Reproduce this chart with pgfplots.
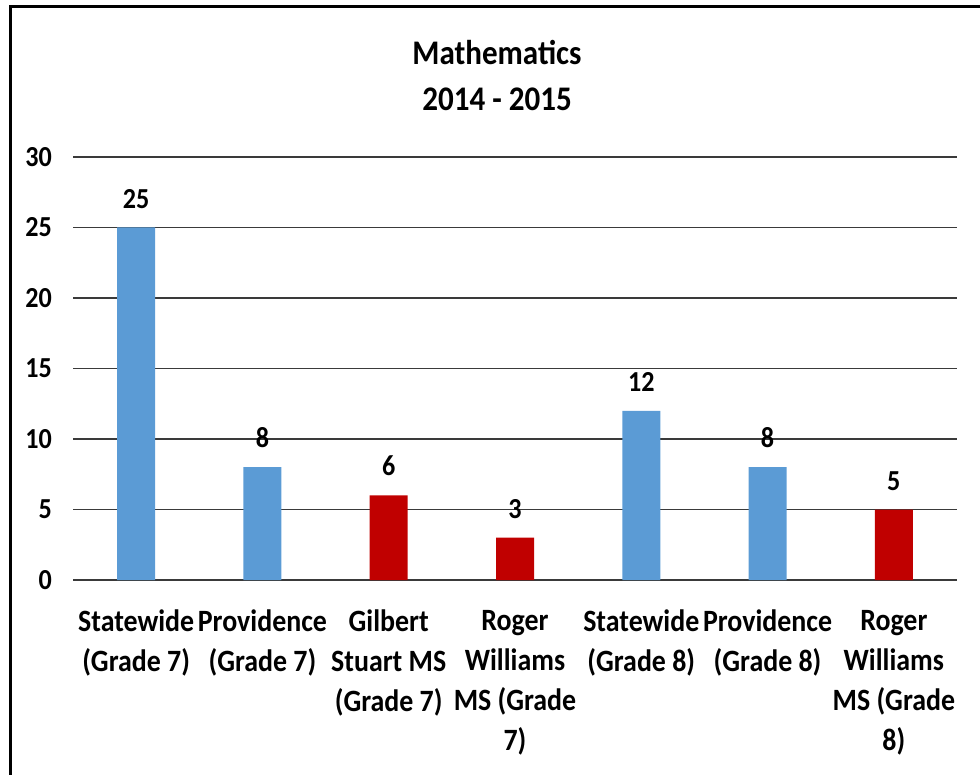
\documentclass[border=0pt]{standalone}
\usepackage{pgfplots}
\pgfplotsset{compat=1.18}
\usepackage{fontspec}
\setmainfont[FakeStretch=0.9]{Carlito}
\definecolor{barblue}{HTML}{5B9BD5}
\definecolor{barred}{HTML}{C00000}
\definecolor{gridc}{HTML}{3A3A3A}
\definecolor{zeroc}{HTML}{D9D9D9}
\begin{document}
\begin{tikzpicture}[x=1pt,y=1pt]
\path[use as bounding box] (0,0) rectangle (980,774);
\draw[line width=3pt, black] (10,-2) -- (10,767) -- (982,767);
\node[font=\bfseries\fontsize{34.5}{46}\selectfont, align=center] at (497,699) {Mathematics\\2014 - 2015};
\begin{axis}[
  at={(73pt,194pt)}, anchor=south west, scale only axis,
  width=884pt, height=423pt,
  xmin=-0.5, xmax=6.5, ymin=0, ymax=30,
  ytick={5,10,...,30},
  extra y ticks={0},
  extra y tick style={grid style={zeroc, line width=1.5pt}},
  ymajorgrids,
  major grid style={gridc, line width=1.2pt},
  axis line style={draw=none},
  major tick length=0pt,
  xtick={0,1,2,3,4,5,6},
  xticklabels={{Statewide\\(Grade 7)},{Providence\\(Grade 7)},{Gilbert\\Stuart MS\\(Grade 7)},{Roger\\Williams\\MS (Grade\\7)},{Statewide\\(Grade 8)},{Providence\\(Grade 8)},{Roger\\Williams\\MS (Grade\\8)}},
  /pgf/number format/assume math mode=true,
  xticklabel style={font=\bfseries\fontsize{31}{40}\selectfont, align=center, anchor=north, inner sep=0pt, yshift=-30pt},
  yticklabel style={font=\bfseries\fontsize{29}{29}\selectfont, anchor=east, inner sep=0pt, xshift=-21pt},
  ybar, bar width=38pt, bar shift=0pt,
  nodes near coords,
  every node near coord/.append style={font=\bfseries\fontsize{29}{29}\selectfont, anchor=south, inner sep=0pt, yshift=19pt},
  clip=false,
]
\addplot[fill=barblue, draw=none] coordinates {(0,25) (1,8) (4,12) (5,8)};
\addplot[fill=barred, draw=none] coordinates {(2,6) (3,3) (6,5)};
\end{axis}
\end{tikzpicture}
\end{document}
